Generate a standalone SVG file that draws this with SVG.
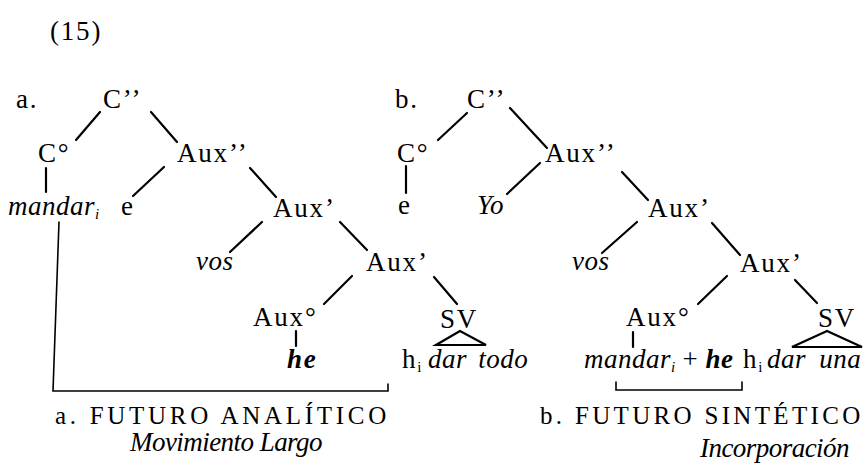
<svg xmlns="http://www.w3.org/2000/svg" width="866" height="471" viewBox="0 0 866 471" font-family="'Liberation Serif', 'Times New Roman', serif">
<style>
text{font-family:"Liberation Serif","Times New Roman",serif;fill:#000;font-size:27px;letter-spacing:1.8px}
.it{font-style:italic;letter-spacing:0.5px}
.bi{font-style:italic;font-weight:bold}
.sub{font-size:15px;letter-spacing:0}
.cap{font-size:25px}
line,polyline,polygon{stroke:#000;stroke-width:2.2;fill:none;stroke-linecap:round}
.br{stroke-width:1.6}
</style>
<rect width="866" height="471" fill="#fff"/>
<text x="50" y="40" font-size="28" letter-spacing="0">(15)</text>
<g id="connectors">
<line x1="100" y1="112" x2="76" y2="140"/>
<line x1="151" y1="112" x2="177" y2="142"/>
<line x1="46" y1="168" x2="46" y2="192"/>
<line x1="164" y1="167" x2="133" y2="196"/>
<line x1="250" y1="168" x2="276" y2="197"/>
<line x1="262" y1="222" x2="230" y2="252"/>
<line x1="340" y1="222" x2="367" y2="250"/>
<line x1="352" y1="276" x2="324" y2="304"/>
<line x1="434" y1="277" x2="457" y2="304"/>
<line x1="296" y1="331" x2="296" y2="346"/>
<polygon points="460,331 436,345 486,345"/>
<polyline class="br" points="59,222 53,391 388,391 388,384"/>
<line x1="467" y1="113" x2="438" y2="140"/>
<line x1="510" y1="108" x2="547" y2="148"/>
<line x1="406" y1="166" x2="406" y2="193"/>
<line x1="540" y1="163" x2="507" y2="194"/>
<line x1="622" y1="172" x2="648" y2="200"/>
<line x1="637" y1="222" x2="602" y2="253"/>
<line x1="712" y1="223" x2="740" y2="255"/>
<line x1="727" y1="276" x2="698" y2="304"/>
<line x1="795" y1="280" x2="817" y2="303"/>
<line x1="633" y1="332" x2="633" y2="347"/>
<polygon points="827,331 792,347 862,347"/>
<polyline class="br" points="616,382 616,390 742,390 742,382"/>
</g>
<g id="tree-a">
<text id="a-label" x="16" y="108">a.</text>
<g id="a-Cbar2"><text x="103" y="108">C’’</text></g>
<g id="a-C0"><text x="38" y="162">C°</text></g>
<g id="a-Auxbar2"><text x="177" y="162">Aux’’</text></g>
<g id="a-mandar"><text class="it" x="8" y="215">mandar<tspan class="sub" dy="4">i</tspan></text></g>
<g id="a-e"><text x="121" y="215">e</text></g>
<g id="a-Auxbar1"><text x="273" y="217">Aux’</text></g>
<g id="a-vos"><text class="it" x="196" y="270">vos</text></g>
<g id="a-Auxbar1b"><text x="366" y="271">Aux’</text></g>
<g id="a-Aux0"><text x="253" y="326">Aux°</text></g>
<g id="a-SV"><text x="440" y="328">SV</text></g>
<g id="a-he"><text class="bi" x="287" y="368">he</text></g>
<g id="a-hi"><text x="402" y="368">h<tspan class="sub" dy="4">i</tspan></text></g>
<g id="a-dartodo"><text class="it" x="428" y="368" word-spacing="4">dar todo</text></g>
<g id="a-caption"><text class="cap" x="55" y="424" textLength="333" lengthAdjust="spacing">a. FUTURO ANALÍTICO</text>
<text class="it" x="130" y="451" textLength="193" lengthAdjust="spacing">Movimiento Largo</text></g>
</g>
<g id="tree-b">
<text id="b-label" x="395" y="108">b.</text>
<g id="b-Cbar2"><text x="467" y="108">C’’</text></g>
<g id="b-C0"><text x="397" y="162">C°</text></g>
<g id="b-Auxbar2"><text x="545" y="162">Aux’’</text></g>
<g id="b-e"><text x="398" y="214">e</text></g>
<g id="b-Yo"><text class="it" x="477" y="214">Yo</text></g>
<g id="b-Auxbar1"><text x="648" y="217">Aux’</text></g>
<g id="b-vos"><text class="it" x="572" y="270">vos</text></g>
<g id="b-Auxbar1b"><text x="740" y="272">Aux’</text></g>
<g id="b-Aux0"><text x="626" y="326">Aux°</text></g>
<g id="b-SV"><text x="818" y="327">SV</text></g>
<g id="b-mandarhe"><text class="it" x="584" y="368">mandar<tspan class="sub" dy="4">i</tspan><tspan dy="-4" font-style="normal"> + </tspan><tspan font-weight="bold">he</tspan></text></g>
<g id="b-hi"><text x="743" y="368">h<tspan class="sub" dy="4">i</tspan></text></g>
<g id="b-darbuna"><text class="it" x="767" y="368" word-spacing="6">dar una</text></g>
<g id="b-caption"><text class="cap" x="540" y="424" textLength="322" lengthAdjust="spacing">b. FUTURO SINTÉTICO</text>
<text class="it" x="700" y="457" textLength="150" lengthAdjust="spacing">Incorporación</text></g>
</g>
</svg>
